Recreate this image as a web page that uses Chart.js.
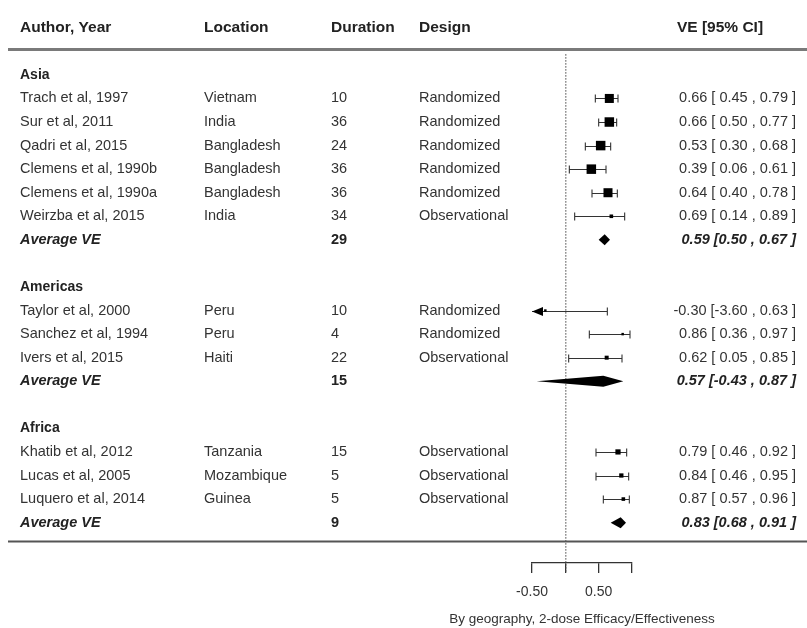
<!DOCTYPE html>
<html>
<head>
<meta charset="utf-8">
<script src="https://cdn.jsdelivr.net/npm/chart.js@4.4.1/dist/chart.umd.min.js"></script>
<style>
  html, body { margin: 0; padding: 0; background: #fff; }
  canvas { display: block; }
</style>
</head>
<body>
<canvas id="forest" width="807" height="628"></canvas>
<script>
// ---- data ----
const regions = ["Asia", "Americas", "Africa"];
const regionSizes = [6, 3, 3];

const authors = [
  "Trach et al, 1997", "Sur et al, 2011", "Qadri et al, 2015",
  "Clemens et al, 1990b", "Clemens et al, 1990a", "Weirzba et al, 2015",
  "Taylor et al, 2000", "Sanchez et al, 1994", "Ivers et al, 2015",
  "Khatib et al, 2012", "Lucas et al, 2005", "Luquero et al, 2014"
];
const locations = [
  "Vietnam", "India", "Bangladesh", "Bangladesh", "Bangladesh", "India",
  "Peru", "Peru", "Haiti",
  "Tanzania", "Mozambique", "Guinea"
];
const durations = [10, 36, 24, 36, 36, 34, 10, 4, 22, 15, 5, 5];
const designs = [
  "Randomized", "Randomized", "Randomized", "Randomized", "Randomized", "Observational",
  "Randomized", "Randomized", "Observational",
  "Observational", "Observational", "Observational"
];
const ve     = [0.66, 0.66, 0.53, 0.39, 0.64, 0.69, -0.30, 0.86, 0.62, 0.79, 0.84, 0.87];
const ciLow  = [0.45, 0.50, 0.30, 0.06, 0.40, 0.14, -3.60, 0.36, 0.05, 0.46, 0.46, 0.57];
const ciHigh = [0.79, 0.77, 0.68, 0.61, 0.78, 0.89, 0.63, 0.97, 0.85, 0.92, 0.95, 0.96];
const weights = [9.5, 10, 10, 10, 9.5, 3.8, 2.6, 2.6, 4.2, 5.5, 4.5, 3.8];

const avgLabel = "Average VE";
const avgVE       = [0.59, 0.57, 0.83];
const avgLow      = [0.50, -0.43, 0.68];
const avgHigh     = [0.67, 0.87, 0.91];
const avgDuration = [29, 15, 9];

const headers = ["Author, Year", "Location", "Duration", "Design", "VE [95% CI]"];
const tickValues = [-0.5, 0, 0.5, 1.0];
const tickLabels = ["-0.50", "", "0.50", ""];
const axisTitle = "By geography, 2-dose Efficacy/Effectiveness";

// ---- row layout (one unit per line of the table) ----
const studyRow = [], groupRow = [], avgRow = [];
(function () {
  let r = 0;
  regions.forEach((g, gi) => {
    groupRow.push(r); r++;
    for (let i = 0; i < regionSizes[gi]; i++) { studyRow.push(r); r++; }
    avgRow.push(r);
    r += 2;
  });
})();
const headerRow = -2;

const f2 = v => v.toFixed(2);
const studyText = i => `${f2(ve[i])} [${f2(ciLow[i]).padStart(5, " ")} , ${f2(ciHigh[i])} ]`;
const avgText = g => `${f2(avgVE[g])} [${f2(avgLow[g])} , ${f2(avgHigh[g])} ]`;

// ---- styling ----
const FONT = '"Liberation Sans", Arial, sans-serif';
const INK = "#333";
const col = { author: 20, location: 204, duration: 331, design: 419, veRight: 796, veHeader: 720 };

const forestPlugin = {
  id: "forestTable",
  beforeDatasetsDraw(chart) {
    const { ctx, scales: { x, y } } = chart;
    ctx.save();

    // reference line at VE = 0
    const x0 = x.getPixelForValue(0);
    ctx.strokeStyle = "#444";
    ctx.lineWidth = 1;
    ctx.setLineDash([1.5, 1.5]);
    ctx.beginPath();
    ctx.moveTo(x0 + 0.5, y.getPixelForValue(-0.88));
    ctx.lineTo(x0 + 0.5, y.bottom + 10);
    ctx.stroke();
    ctx.setLineDash([]);

    // confidence intervals of each study
    ctx.strokeStyle = INK;
    ctx.fillStyle = "#000";
    ctx.lineWidth = 1.1;
    const cap = 4;
    studyRow.forEach((row, i) => {
      const py = Math.round(y.getPixelForValue(row)) + 0.5;
      const lo = Math.max(ciLow[i], x.min);
      const hi = Math.min(ciHigh[i], x.max);
      const xl = x.getPixelForValue(lo);
      const xh = x.getPixelForValue(hi);
      ctx.beginPath();
      ctx.moveTo(xl, py); ctx.lineTo(xh, py);
      if (ciLow[i] >= x.min) { ctx.moveTo(xl, py - cap); ctx.lineTo(xl, py + cap); }
      if (ciHigh[i] <= x.max) { ctx.moveTo(xh, py - cap); ctx.lineTo(xh, py + cap); }
      ctx.stroke();
      if (ciLow[i] < x.min) {
        ctx.beginPath();
        ctx.moveTo(xl, py); ctx.lineTo(xl + 11, py - 4.5); ctx.lineTo(xl + 11, py + 4.5);
        ctx.closePath(); ctx.fill();
      }
      if (ciHigh[i] > x.max) {
        ctx.beginPath();
        ctx.moveTo(xh, py); ctx.lineTo(xh - 11, py - 4.5); ctx.lineTo(xh - 11, py + 4.5);
        ctx.closePath(); ctx.fill();
      }
    });

    // pooled estimates as diamonds
    const dh = 5.5;
    avgRow.forEach((row, g) => {
      const py = y.getPixelForValue(row);
      ctx.beginPath();
      ctx.moveTo(x.getPixelForValue(avgLow[g]), py);
      ctx.lineTo(x.getPixelForValue(avgVE[g]), py - dh);
      ctx.lineTo(x.getPixelForValue(avgHigh[g]), py);
      ctx.lineTo(x.getPixelForValue(avgVE[g]), py + dh);
      ctx.closePath();
      ctx.fill();
    });
    ctx.restore();
  },
  afterDraw(chart) {
    const { ctx, scales: { x, y } } = chart;
    ctx.save();
    ctx.textBaseline = "middle";

    // header
    const hy = y.getPixelForValue(headerRow);
    ctx.fillStyle = "#222";
    ctx.font = `bold 15.5px ${FONT}`;
    ctx.textAlign = "left";
    ctx.fillText(headers[0], col.author, hy);
    ctx.fillText(headers[1], col.location, hy);
    ctx.fillText(headers[2], col.duration, hy);
    ctx.fillText(headers[3], col.design, hy);
    ctx.textAlign = "center";
    ctx.fillText(headers[4], col.veHeader, hy);

    // rules
    ctx.strokeStyle = "#7a7a7a";
    ctx.lineWidth = 3;
    ctx.beginPath();
    ctx.moveTo(8, y.getPixelForValue(-1.08)); ctx.lineTo(807, y.getPixelForValue(-1.08));
    ctx.stroke();
    ctx.strokeStyle = "#555";
    ctx.lineWidth = 2;
    ctx.beginPath();
    ctx.moveTo(8, y.getPixelForValue(19.8)); ctx.lineTo(807, y.getPixelForValue(19.8));
    ctx.stroke();

    // region labels
    ctx.textAlign = "left";
    ctx.font = `bold 14px ${FONT}`;
    regions.forEach((g, gi) => ctx.fillText(g, col.author, y.getPixelForValue(groupRow[gi])));

    // study rows
    ctx.fillStyle = INK;
    studyRow.forEach((row, i) => {
      const py = y.getPixelForValue(row);
      ctx.font = `14.5px ${FONT}`;
      ctx.textAlign = "left";
      ctx.fillText(authors[i], col.author, py);
      ctx.fillText(locations[i], col.location, py);
      ctx.fillText(String(durations[i]), col.duration, py);
      ctx.fillText(designs[i], col.design, py);
      ctx.textAlign = "right";
      ctx.fillText(studyText(i), col.veRight, py);
    });

    // pooled rows
    ctx.fillStyle = "#222";
    avgRow.forEach((row, g) => {
      const py = y.getPixelForValue(row);
      ctx.textAlign = "left";
      ctx.font = `italic bold 14.5px ${FONT}`;
      ctx.fillText(avgLabel, col.author, py);
      ctx.font = `bold 14.5px ${FONT}`;
      ctx.fillText(String(avgDuration[g]), col.duration, py);
      ctx.textAlign = "right";
      ctx.font = `italic bold 14.5px ${FONT}`;
      ctx.fillText(avgText(g), col.veRight, py);
    });

    // x-axis caption, centred under the axis
    ctx.fillStyle = INK;
    ctx.textAlign = "center";
    ctx.font = `13.5px ${FONT}`;
    ctx.fillText(axisTitle, (x.left + x.right) / 2, 619);
    ctx.restore();
  }
};

new Chart(document.getElementById("forest"), {
  type: "scatter",
  data: {
    datasets: [{
      label: "VE",
      data: studyRow.map((row, i) => ({ x: ve[i], y: row })),
      pointStyle: "rect",
      pointRadius: weights.map(w => (w * 0.95) / Math.SQRT2),
      backgroundColor: "#000",
      borderWidth: 0,
      clip: false
    }]
  },
  options: {
    responsive: false,
    animation: false,
    layout: { padding: { left: 532, right: 175, top: 0, bottom: 0 } },
    plugins: { legend: { display: false }, tooltip: { enabled: false } },
    scales: {
      x: {
        type: "linear",
        min: -0.5,
        max: 1.0,
        afterBuildTicks: s => { s.ticks = tickValues.map(v => ({ value: v })); },
        afterFit: s => { s.height = 65; },
        grid: { display: true, drawOnChartArea: false, drawTicks: true, tickLength: 10, color: INK, lineWidth: 1.3 },
        border: { display: true, color: INK, width: 1.3 },
        ticks: {
          autoSkip: false, maxRotation: 0, padding: 11,
          callback: (v, i) => tickLabels[i],
          font: { family: FONT, size: 14 }, color: INK
        },
        title: { display: false }
      },
      y: {
        type: "linear",
        display: false,
        reverse: true,
        min: -2.893,
        max: 20.713
      }
    }
  },
  plugins: [forestPlugin]
});
</script>
</body>
</html>
